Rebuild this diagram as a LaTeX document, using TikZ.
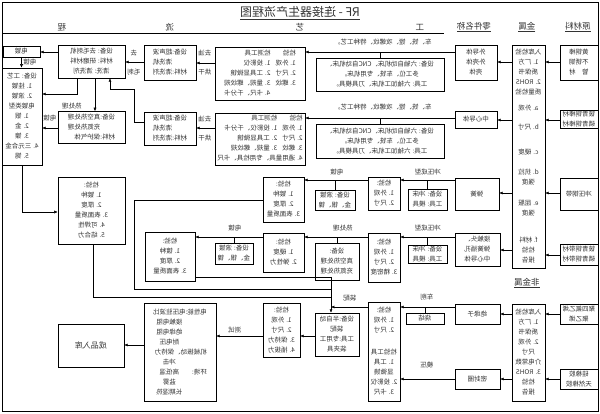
\documentclass[tikz,border=0pt]{standalone}
\usepackage{fontspec}
\setmainfont{Noto Sans CJK SC}
\usetikzlibrary{arrows.meta}
\newcommand\bx[6]{\node[box,minimum width={(#4-#2)*1pt},minimum height={(#5-#3)*1pt}] (#1) at ({(#2+#4)/2},{(#3+#5)/2}) {#6};}
\begin{document}
\begin{tikzpicture}[x=1pt,y=-1pt,xscale=-1,
    every node/.append style={transform shape,text=black!80,font=\fontsize{6.5}{10}\selectfont},
    box/.style={draw,line width=0.5pt,inner sep=1pt,align=center},
    lbl/.style={inner sep=0.5pt},
    head/.style={inner sep=0.5pt,font=\fontsize{8.5}{10}\selectfont},
    flow/.style={line width=0.5pt,-{Latex[length=3.5pt,width=3pt]}},
    link/.style={line width=0.5pt}]
\useasboundingbox (0,0) rectangle (600,414);
\draw[line width=0.9pt] (2,2) rectangle (598,411);
\draw[link] (156,33) -- (598,33);
% headings
\node[font=\fontsize{12}{14}\selectfont,inner sep=0.5pt] (title) at (300,13) {\underline{RF - 连接器生产流程图}};
\node[head] (hraw) at (22,27) {\underline{原材料}};
\node[head] (hmet) at (73,27) {\underline{金属}};
\node[head] (hpart) at (126,27) {\underline{零件名称}};
\node[head] (hgong) at (180,27) {工};
\node[head] (hyi) at (300,27) {艺};
\node[head] (hliu) at (430,27) {流};
\node[head] (hcheng) at (538,27) {程};
\node[head] (hnon) at (73,283) {\underline{非金属}};
% raw materials and incoming checks
\bx{r1}{2}{45}{40}{80}{黄铜棒\\不锈钢\\管　材}
\bx{r2}{2}{111}{40}{128}{铍青铜棒材\\磷青铜棒材}
\bx{r3}{2}{178}{40}{210}{冲压钢带}
\bx{r4}{2}{244}{40}{265}{铍青铜带材\\磷青铜带材}
\bx{r5}{2}{304}{40}{324}{聚四氟乙烯\\聚乙烯}
\bx{r6}{2}{369}{40}{389}{硅橡胶\\天然橡胶}
\bx{m}{55}{45}{88}{268}{入库检验\\1. 厂方\\质保书\\2. ROHS\\质量检验\\[6pt]a. 外观\\[9pt]b. 尺寸\\[15pt]c. 硬度\\[10pt]d. 抗拉\\强度\\[11pt]e. 屈服\\强度\\[17pt]f. 材料\\检验\\报告}
\bx{n}{55}{304}{88}{401}{入库检验\\1. 厂方\\质保书\\2. 外观\\尺寸\\介电常数\\3. ROHS\\检验\\报告}
\bx{p1}{103}{45}{145}{80}{外导体\\外壳体\\壳体}
\bx{p2}{103}{111}{145}{128}{中心导体}
\bx{p3}{101}{178}{145}{210}{弹簧}
\bx{p4}{100}{233}{145}{266}{接触头、\\弹簧插孔\\中心导体}
\bx{p5}{100}{304}{145}{324}{绝缘子}
\bx{p6}{100}{369}{145}{389}{密封圈}
\foreach \a/\b/\yy in {r1/m/62,r2/m/120,r3/m/193,r4/m/255,r5/n/314,r6/n/379,m/p1/62,m/p2/120,m/p3/193,m/p4/250,n/p5/314,n/p6/379}
  \draw[flow] (\a.east|-0,\yy) -- (\b.west|-0,\yy);
% machined parts
\bx{e1}{156}{58}{284}{91}{设备: 六轴自动机床、CNC自动机床、\\多工位、车铣、专用机床。\\工具: 六轴加工机床、刀具模具。}
\bx{e2}{156}{124}{284}{158}{设备: 六轴自动机床、CNC自动机床、\\多工位、车铣、专用机床。\\工具: 六轴加工机床、刀具模具。}
\bx{q1}{295}{47}{385}{100}{\begin{tabular}{@{}l@{\hspace{5pt}}l@{}}检验 & 检测工具\\1. 外观 & 1. 投影仪\\2. 尺寸 & 2. 工具显微镜\\3. 螺纹 & 3. 量规、螺纹规\\ & 4. 卡尺、千分卡\end{tabular}}
\bx{q2}{295}{113}{385}{165}{\begin{tabular}{@{}l@{\hspace{5pt}}l@{}}检验 & 检测工具\\1. 外观 & 1. 投影仪、千分卡\\2. 尺寸 & 2. 工具显微镜\\3. 螺纹 & 3. 量规、螺纹规\\\multicolumn{2}{@{}l@{}}{4. 通用量具、专用检具、卡尺}\end{tabular}}
\bx{w1}{404}{45}{456}{80}{\begin{tabular}{@{}l@{}l@{}}设备: & 超声波\\ & 清洗机\\材料: & 清洗剂\end{tabular}}
\bx{w2}{404}{112}{456}{145}{\begin{tabular}{@{}l@{}l@{}}设备: & 超声波\\ & 清洗机\\材料: & 清洗剂\end{tabular}}
\bx{d1}{475}{45}{542}{78}{设备: 去毛刺机\\材料: 研磨材料\\清洗: 清洗剂}
\bx{h1}{475}{112}{542}{143}{\begin{tabular}{@{}l@{}l@{}}设备: & 真空热处理\\ & 充氮热处理\\材料: & 保护气体\end{tabular}}
\bx{b1}{560}{46}{597}{57}{电镀}
\bx{l1}{558}{68}{598}{165}{设备: 工艺\\1. 挂镀\\2. 滚镀\\电镀类型\\1. 银\\2. 金\\3. 镍\\4. 三元合金\\5. 锡}
\bx{f1}{475}{177}{542}{244}{检验:\\1. 镀种\\2. 厚度\\3. 表面质量\\4. 可焊性\\5. 结合力}
\node[lbl] (t1) at (217,42) {车、铣、镗、攻螺纹、特种工艺。};
\node[lbl] (t2) at (217,107) {车、铣、镗、攻螺纹、特种工艺。};
\node[lbl] (t3) at (395,53) {去油};
\node[lbl] (t4) at (395,72) {烘干};
\node[lbl] (t5) at (395,119) {去油};
\node[lbl] (t6) at (395,138) {烘干};
\node[lbl] (t7) at (466,53) {去};
\node[lbl] (t8) at (466,72) {毛刺};
\node[lbl] (t9) at (570,62) {电镀};
\node[lbl] (t10) at (528,106) {热处理};
\node[lbl] (t11) at (550,118) {电镀};
\draw[flow] (p1.east|-0,52) -- (q1.west|-0,52);
\draw[link] (e1.north) -- (e1.north|-0,52);
\draw[flow] (p2.east|-0,118) -- (q2.west|-0,118);
\draw[link] (e2.north) -- (e2.north|-0,118);
\draw[flow] (q1.east|-0,63) -- (w1.west|-0,63);
\draw[flow] (q2.east|-0,128) -- (w2.west|-0,128);
\draw[flow] (w1.east|-0,62) -- (d1.west|-0,62);
\draw[flow] (w2.east|-0,122) -- ++(9,0) -- ++(0,-33) -| (d1.south-|490,0);
\draw[flow] (d1.east|-0,52) -- (b1.west|-0,52);
\draw[flow] (b1.south) -- (b1.south|-l1.north);
\draw[flow] (d1.south-|523,0) |- (l1.west|-0,94);
\draw[flow] (d1.south-|505,0) -- (h1.north-|505,0);
\draw[flow] (h1.east|-0,128) -- (l1.west|-0,128);
\draw[flow] (l1.south) |- (f1.east|-0,212);
% stamped parts
\bx{s3}{153}{189}{192}{210}{设备: 冲床\\工具: 模具}
\bx{q3}{200}{177}{232}{210}{检验:\\1. 外观\\2. 尺寸}
\bx{s3b}{245}{190}{285}{210}{设备: 滚镀\\金、银、镍}
\bx{c3}{296}{177}{337}{222}{检验:\\1. 镀种\\2. 厚度\\3. 表面质量}
\bx{s4}{153}{245}{192}{263}{设备: 冲床\\工具: 模具}
\bx{q4}{200}{233}{232}{282}{检验:\\1. 外观\\2. 尺寸\\3. 精密度}
\bx{s4b}{241}{243}{285}{280}{设备:\\真空热处理\\充氮热处理}
\bx{c4}{296}{233}{337}{272}{检验:\\1. 硬度\\2. 弹性力}
\bx{s4c}{347}{243}{385}{264}{设备: 滚镀\\金、银、镍}
\bx{g4}{405}{232}{455}{281}{检验:\\1. 镀种\\2. 厚度\\3. 表面质量}
\node[lbl] (t12) at (172,172) {冲压成型};
\node[lbl] (t13) at (263,172) {电镀};
\node[lbl] (t14) at (172,228) {冲压成型};
\node[lbl] (t15) at (257,228) {热处理};
\node[lbl] (t16) at (365,228) {电镀};
\draw[flow] (p3.east|-0,180) -- (q3.west|-0,180);
\draw[flow] (q3.east|-0,180) -- (c3.west|-0,180);
\draw[flow] (p4.east|-0,237) -- (q4.west|-0,237);
\draw[flow] (q4.east|-0,237) -- (c4.west|-0,237);
\draw[flow] (c4.east|-0,237) -- (g4.west|-0,237);
\foreach \s/\yy in {s3/180,s3b/180,s4/237,s4b/237,s4c/237}
  \draw[link] (\s.north) -- (\s.north|-0,\yy);
% non-metal parts, assembly and test
\bx{s5}{156}{313}{194}{324}{烧结}
\bx{qb}{200}{302}{232}{401}{检验:\\1. 外观\\2. 尺寸\\[12pt]检验工具\\1. 工具\\显微镜\\2. 投影仪\\3. 卡尺}
\bx{as}{241}{313}{285}{356}{设备:半自动\\装配\\工具:专用工\\装夹具}
\bx{tb}{300}{303}{337}{357}{检验:\\1. 外观\\2. 尺寸\\3. 保持力\\4. 插拔力}
\bx{sb}{384}{303}{456}{401}{\begin{tabular}{@{}l@{}c@{}}电性能: & 电压驻波比\\ & 接触电阻\\ & 绝缘电阻\\ & 耐电压\\\multicolumn{2}{@{}l@{}}{机械振动、保持力}\\ & 冲击\\环境: & 高低温\\ & 盐雾\\ & 长期湿热\end{tabular}}
\bx{fin}{476}{324}{542}{367}{\fontsize{8}{10}\selectfont 成品入库}
\node[lbl] (t17) at (173,297) {车削};
\node[lbl] (t18) at (173,365) {模压};
\node[lbl] (t19) at (250,298) {装配};
\node[lbl] (t20) at (365,330) {测试};
\coordinate (j1) at (269,277);
\coordinate (j2) at (269,289);
\coordinate (j3) at (269,297);
\draw[link] (g4.west|-0,277) -- (j1);
\draw[link] (c3.east|-0,200) -- ++(128,0) |- (j2);
\draw[link] (f1.south-|507,0) |- (j3);
\draw[flow] (j1) -- (as.north-|j1);
\draw[flow] (p5.east|-0,307) -- (qb.west|-0,307);
\draw[link] (s5.north) -- (s5.north|-0,307);
\draw[flow] (p6.east|-0,379) -- (qb.west|-0,379);
\draw[flow] (qb.east|-0,307) -- (j1|-0,307);
\draw[flow] (as.east|-0,336) -- (tb.west|-0,336);
\draw[flow] (tb.east|-0,336) -- (sb.west|-0,336);
\draw[flow] (sb.east|-0,345) -- (fin.west|-0,345);
\end{tikzpicture}
\end{document}
